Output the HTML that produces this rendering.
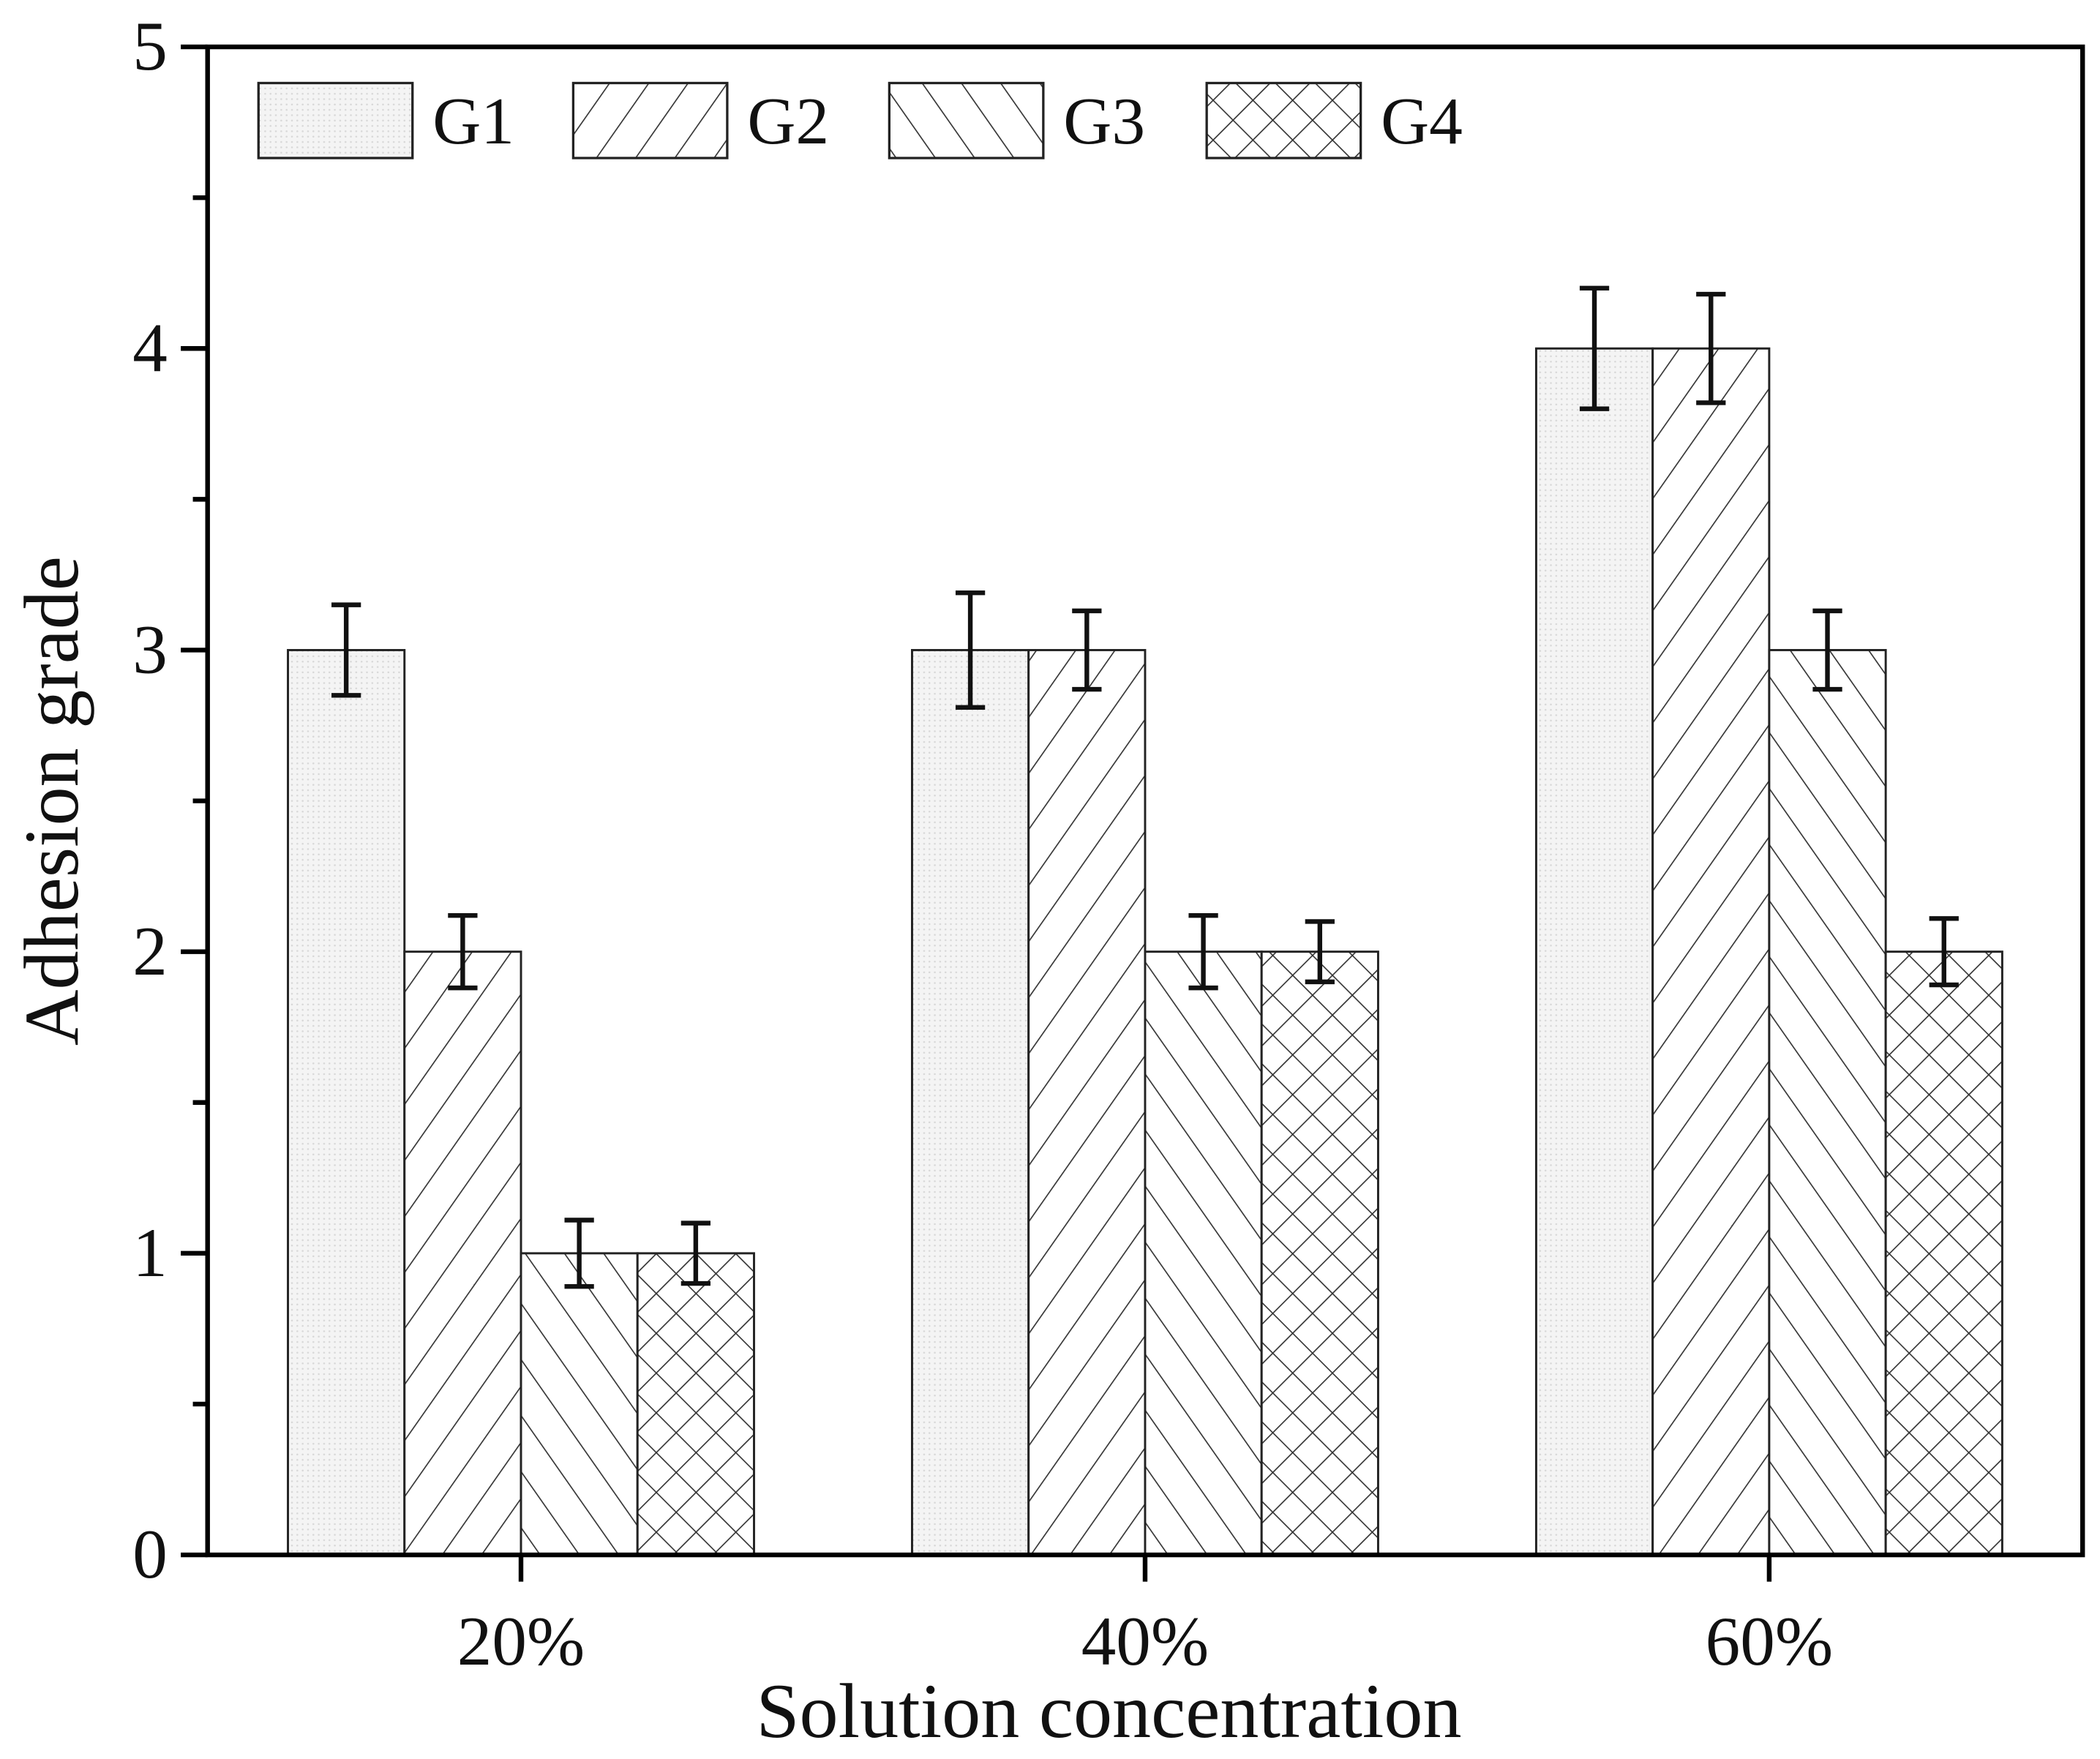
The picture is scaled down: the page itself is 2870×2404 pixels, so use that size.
<!DOCTYPE html>
<html><head><meta charset="utf-8"><style>
html,body{margin:0;padding:0;background:#fff;}
svg{display:block;}
text{font-family:"Liberation Serif",serif;fill:#111;}
</style></head><body>
<svg id="chart" width="2870" height="2404" viewBox="0 0 1568 1313.4" xmlns="http://www.w3.org/2000/svg">
<defs>
<pattern id="pG1" width="4" height="4" patternUnits="userSpaceOnUse"><rect width="4" height="4" fill="#f4f4f4"/><circle cx="2" cy="2" r="0.7" fill="#d8d8d8"/></pattern>
<pattern id="pG2" width="24" height="40" patternUnits="userSpaceOnUse" patternTransform="rotate(35)"><rect width="24" height="40" fill="#fff"/><line x1="0" y1="0" x2="0" y2="40" stroke="#333" stroke-width="1.8"/></pattern>
<pattern id="pG3" width="24" height="40" patternUnits="userSpaceOnUse" patternTransform="rotate(-35)"><rect width="24" height="40" fill="#fff"/><line x1="0" y1="0" x2="0" y2="40" stroke="#333" stroke-width="1.8"/></pattern>
<pattern id="pG4" width="21" height="21" patternUnits="userSpaceOnUse" patternTransform="rotate(45)"><rect width="21" height="21" fill="#fff"/><line x1="0" y1="0" x2="0" y2="21" stroke="#333" stroke-width="1.8"/><line x1="0" y1="0" x2="21" y2="0" stroke="#333" stroke-width="1.8"/></pattern>
</defs>
<g id="plot"></g>
</svg>
<script>
const categories = ["20%", "40%", "60%"];
const seriesNames = ["G1", "G2", "G3", "G4"];
const valuesG1 = [3, 3, 4];
const valuesG2 = [2, 3, 4];
const valuesG3 = [1, 2, 3];
const valuesG4 = [1, 2, 2];
const errG1 = [0.15, 0.19, 0.2];
const errG2 = [0.12, 0.13, 0.18];
const errG3 = [0.11, 0.12, 0.13];
const errG4 = [0.1, 0.1, 0.11];
const yTicks = [0, 1, 2, 3, 4, 5];

const NS = "http://www.w3.org/2000/svg";
const g = document.getElementById("plot");
const L = 155, R = 1555, T = 35, B = 1161;
const yMin = 0, yMax = 5;
const y = v => B - (v - yMin) / (yMax - yMin) * (B - T);
const groupStep = 466, firstCenter = 389;
const x = i => firstCenter + i * groupStep;
const barW = 87;
const fills = ["url(#pG1)", "url(#pG2)", "url(#pG3)", "url(#pG4)"];
const allVals = [valuesG1, valuesG2, valuesG3, valuesG4];
const allErrs = [errG1, errG2, errG3, errG4];

function mk(tag, attrs, parent) {
  const e = document.createElementNS(NS, tag);
  for (const k in attrs) e.setAttribute(k, attrs[k]);
  (parent || g).appendChild(e);
  return e;
}

allVals.forEach((vals, s) => {
  vals.forEach((v, i) => {
    const bx = x(i) + (s - 2) * barW;
    const r = mk("rect", {x: bx, y: y(v), width: barW, height: B - y(v), fill: fills[s], stroke: "#222", "stroke-width": 1.6});
    
    
  });
});
allVals.forEach((vals, s) => {
  vals.forEach((v, i) => {
    const cx = x(i) + (s - 2) * barW + barW / 2;
    const e = allErrs[s][i];
    const eg = mk("g", {stroke: "#111", "stroke-width": 3.5});
    
    
    mk("line", {x1: cx, x2: cx, y1: y(v + e), y2: y(v - e)}, eg);
    mk("line", {x1: cx - 11, x2: cx + 11, y1: y(v + e), y2: y(v + e)}, eg);
    mk("line", {x1: cx - 11, x2: cx + 11, y1: y(v - e), y2: y(v - e)}, eg);
  });
});
const ax = mk("g", {stroke: "#000", "stroke-width": 3.5, fill: "none"});


mk("rect", {x: L, y: T, width: R - L, height: B - T}, ax);
yTicks.forEach(t => {
  mk("line", {x1: L - 20, x2: L, y1: y(t), y2: y(t), stroke: "#000", "stroke-width": 3.5});
  if (t < yMax) mk("line", {x1: L - 11, x2: L, y1: y(t + 0.5), y2: y(t + 0.5), stroke: "#000", "stroke-width": 3.5});
  const lb = mk("text", {x: L - 30, y: y(t) + 17, "text-anchor": "end", "font-size": 52});
  lb.textContent = t;
  
  
});
categories.forEach((c, i) => {
  mk("line", {x1: x(i), x2: x(i), y1: B, y2: B + 20, stroke: "#000", "stroke-width": 3.5});
  const lb = mk("text", {x: x(i), y: B + 82, "text-anchor": "middle", "font-size": 52});
  lb.textContent = c;
  
  
});
const xt = mk("text", {x: 828, y: 1297, "text-anchor": "middle", "font-size": 58});
xt.textContent = "Solution concentration";


const yt = mk("text", {x: 0, y: 0, "text-anchor": "middle", "font-size": 58, transform: "translate(58,598) rotate(-90)"});
yt.textContent = "Adhesion grade";


const legX = [193, 428, 664, 901];
seriesNames.forEach((n, s) => {
  const lg = mk("g", {});
  
  
  mk("rect", {x: legX[s], y: 62, width: 115, height: 56, fill: fills[s], stroke: "#222", "stroke-width": 1.8}, lg);
  const t = mk("text", {x: legX[s] + 130, y: 107, "font-size": 50}, lg);
  t.textContent = n;
});
</script>
</body></html>
